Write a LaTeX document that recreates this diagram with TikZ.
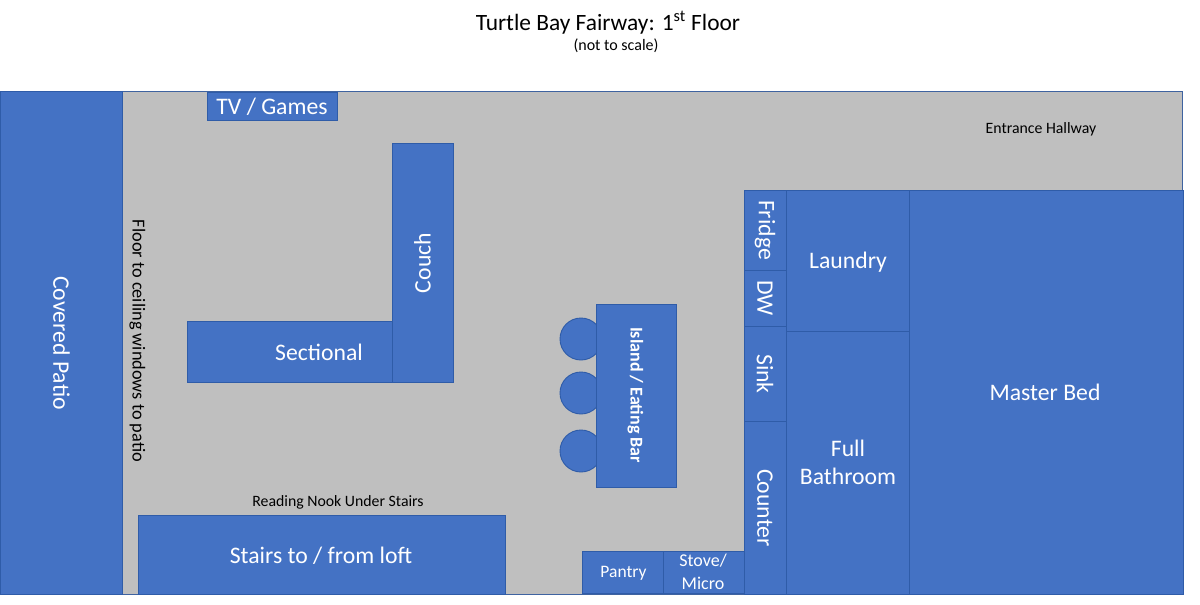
\documentclass[tikz,border=0pt]{standalone}
\usepackage{fontspec}
\setmainfont{Carlito}
\definecolor{roomblue}{HTML}{4472C4}
\definecolor{roomedge}{HTML}{2F5CA8}
\definecolor{floorgrey}{HTML}{BFBFBF}
\tikzset{
  room/.style={fill=roomblue,draw=roomedge,line width=0.9pt},
  lab/.style={text=white,font=\fontsize{#1}{#1}\selectfont,inner sep=0pt,align=center},
  lab/.default=23.7,
  note/.style={text=black,font=\fontsize{#1}{#1}\selectfont,inner sep=0pt,align=center},
  note/.default=15.8
}
\begin{document}
\begin{tikzpicture}[x=1pt,y=-1pt]
\useasboundingbox (0,0) rectangle (1200,605);
\fill[white] (0,0) rectangle (1200,605);
% floor
\draw[fill=floorgrey,draw=roomedge!80!gray,line width=0.9pt] (0,91.5) rectangle (1182.5,594.5);
% rooms
\draw[room] (0,91.5) rectangle (122,594.5);
\draw[room] (207,92.5) rectangle (337,120);
\draw[room] (187,321.5) rectangle (392,382.5);
\draw[room] (392,143.5) rectangle (453.5,382.5);
\draw[room] (138,515.5) rectangle (505.5,594.5);
\draw[room] (581,339) circle (21);
\draw[room] (581,393) circle (21);
\draw[room] (581,451) circle (21);
\draw[room] (596.5,304.5) rectangle (676.5,487);
\draw[room] (582.5,551.5) rectangle (663,593.5);
\draw[room] (663,551.5) rectangle (744,593.5);
\draw[room] (744.5,190.5) rectangle (786,270);
\draw[room] (744.5,270) rectangle (786,326);
\draw[room] (744.5,326) rectangle (786,421);
\draw[room] (744.5,421) rectangle (786,594);
\draw[room] (786,190.5) rectangle (909,331);
\draw[room] (786,331) rectangle (909,594);
\draw[room] (909,190.5) rectangle (1183.5,594);
% titles
\node[note=23.4] (title) at (608,23) {Turtle Bay Fairway: 1\textsuperscript{st} Floor};
\node[note=16] (sub) at (616,46) {(not to scale)};
\node[note] (hall) at (1041,129) {Entrance Hallway};
\node[note] (nook) at (338,502) {Reading Nook Under Stairs};
\node[note=18.3,rotate=-90] (win) at (137.5,341) {Floor to ceiling windows to patio};
% room labels
\node[lab,rotate=-90] (patio) at (61.5,343) {Covered Patio};
\node[lab] (tv) at (272,106.5) {TV / Games};
\node[lab,rotate=90] (couch) at (422.5,263) {Couch};
\node[lab] (sect) at (319,352.5) {Sectional};
\node[lab] (stairs) at (321,555.5) {Stairs to / from loft};
\node[lab=18,rotate=-90] (island) at (635.5,395) {\bfseries Island / Eating Bar};
\node[lab=17.5] (pantry) at (623.5,573.5) {Pantry};
\node[lab=18] (stove) at (703,572) {Stove/\\[5pt]Micro};
\node[lab,rotate=-90] (fridge) at (765,230) {Fridge};
\node[lab,rotate=-90] (dw) at (765,298) {DW};
\node[lab,rotate=-90] (sink) at (765,374) {Sink};
\node[lab,rotate=-90] (counter) at (765,508) {Counter};
\node[lab] (laundry) at (848,262.5) {Laundry};
\node[lab] (bath) at (848,462.5) {Full\\[4.5pt]Bathroom};
\node[lab] (master) at (1045,392) {Master Bed};
\end{tikzpicture}
\end{document}
